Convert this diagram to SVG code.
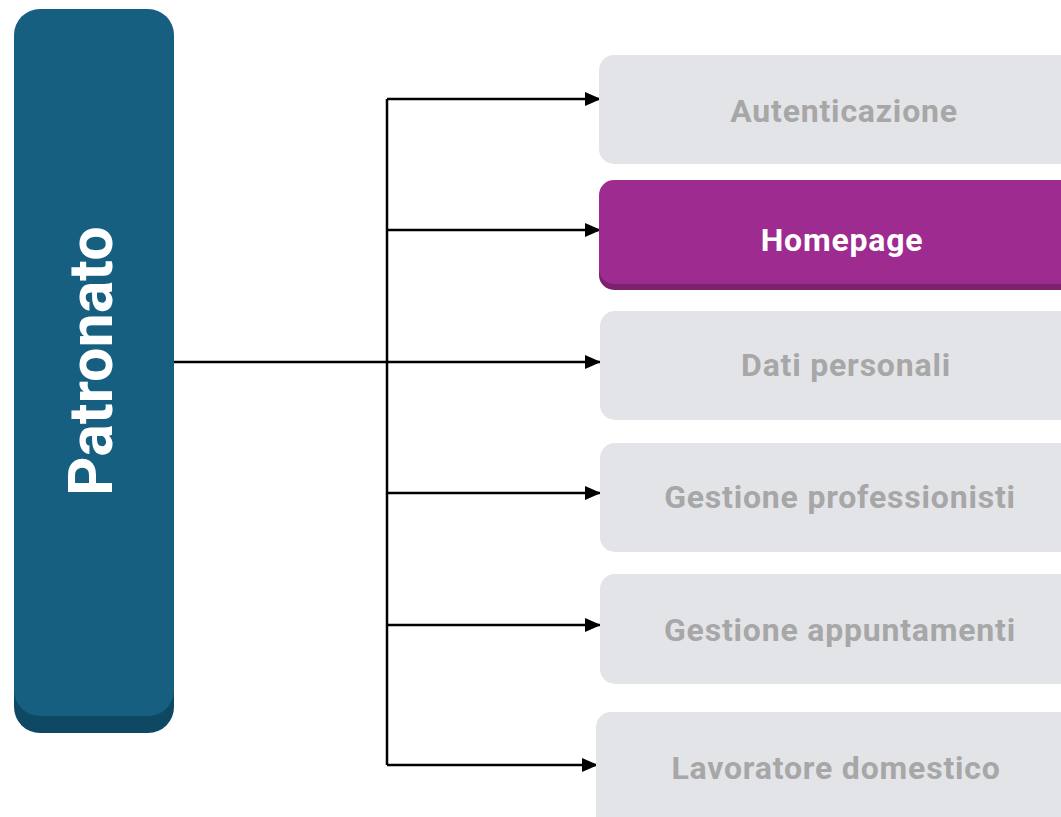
<svg xmlns="http://www.w3.org/2000/svg" width="1061" height="817" viewBox="0 0 1061 817">
<defs>
<style>
.lbl{font-family:Roboto,"Open Sans","Liberation Sans",sans-serif;font-weight:700;font-size:32px;letter-spacing:0.8px;text-anchor:middle}
.gray rect{fill:#e3e4e8}
.gray text{fill:#a7a7a7}
.conn{stroke:#000;stroke-width:2.5;fill:none}
</style>
<marker id="arr" markerWidth="16" markerHeight="14" refX="15" refY="7" orient="auto" markerUnits="userSpaceOnUse">
<path d="M0,0 L16,7 L0,14 Z" fill="#000"/>
</marker>
</defs>
<rect width="1061" height="817" fill="#fff"/>
<g id="patronato">
<rect x="14" y="25" width="160" height="708" rx="26" fill="#0f4862"/>
<rect x="14" y="9" width="160" height="707" rx="26" fill="#165f80"/>
<text class="lbl" transform="translate(112,361) rotate(-90)" style="font-size:61px;letter-spacing:0" fill="#fff">Patronato</text>
</g>
<g id="connectors">
<path class="conn" d="M174,362 H387"/>
<path class="conn" d="M387,99 V765"/>
<path class="conn" d="M387,99 H600" marker-end="url(#arr)"/>
<path class="conn" d="M387,230 H600" marker-end="url(#arr)"/>
<path class="conn" d="M387,362 H600" marker-end="url(#arr)"/>
<path class="conn" d="M387,493 H600" marker-end="url(#arr)"/>
<path class="conn" d="M387,625 H600" marker-end="url(#arr)"/>
<path class="conn" d="M387,765 H597" marker-end="url(#arr)"/>
</g>
<g id="autenticazione" class="gray">
<rect x="599" y="55" width="490" height="109" rx="15"/>
<text class="lbl" x="844" y="122">Autenticazione</text>
</g>
<g id="homepage">
<rect x="599" y="187" width="490" height="103" rx="15" fill="#7b2170"/>
<rect x="599" y="180" width="490" height="104" rx="15" fill="#9e2b8f"/>
<text class="lbl" x="842" y="251" fill="#fff">Homepage</text>
</g>
<g id="dati" class="gray">
<rect x="600" y="311" width="490" height="109" rx="15"/>
<text class="lbl" x="846" y="376">Dati personali</text>
</g>
<g id="professionisti" class="gray">
<rect x="600" y="443" width="490" height="109" rx="15"/>
<text class="lbl" x="840" y="508">Gestione professionisti</text>
</g>
<g id="appuntamenti" class="gray">
<rect x="600" y="574" width="490" height="110" rx="15"/>
<text class="lbl" x="840" y="641">Gestione appuntamenti</text>
</g>
<g id="lavoratore" class="gray">
<rect x="596" y="712" width="490" height="120" rx="15"/>
<text class="lbl" x="836" y="779">Lavoratore domestico</text>
</g>
</svg>
